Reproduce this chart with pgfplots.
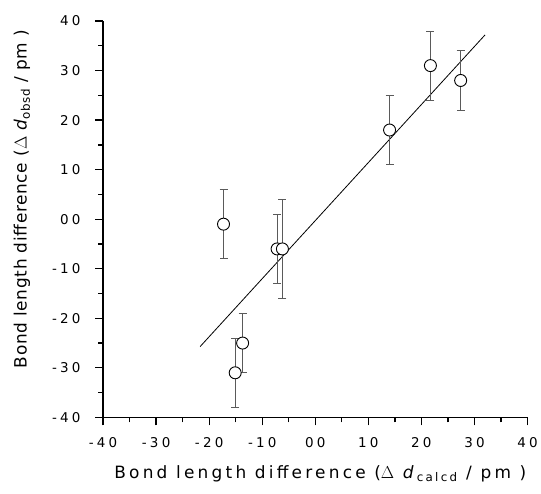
\documentclass[border=0pt]{standalone}
\usepackage{fontspec}
\setmainfont{DejaVu Sans}
\newfontfamily\tickfont[LetterSpace=24]{DejaVu Sans}
\newfontfamily\xlabelfont[LetterSpace=19]{DejaVu Sans}
\newfontfamily\ylabelfont[LetterSpace=4]{DejaVu Sans}
\usepackage{pgfplots}
\pgfplotsset{compat=1.18}
\definecolor{errgray}{RGB}{90,90,90}

\begin{document}
\begin{tikzpicture}
\begin{axis}[
  name=ax,
  width=424bp, height=396bp, scale only axis,
  xmin=-40, xmax=40, ymin=-40, ymax=40,
  axis x line*=bottom, axis y line*=left,
  axis line style={line width=1.6bp, -},
  xtick={-40,-30,...,40}, ytick={-40,-30,...,40},
  xticklabels={-40,-30,-20,-10,00,10,20,30,40},
  yticklabels={-40,-30,-20,-10,00,10,20,30,40},
  minor tick num=1,
  tick align=outside,
  major tick length=8bp, minor tick length=5bp,
  tick style={line width=1.3bp, black},
  ticklabel style={font=\tickfont\fontsize{13.5}{15}\selectfont},
  xticklabel style={yshift=-9bp},
  yticklabel style={xshift=-11bp},
  xlabel={\xlabelfont\fontsize{17}{20}\selectfont Bond length difference (\(\Delta\) \textit{d}\textsubscript{calcd} / pm )},
  ylabel={\ylabelfont\fontsize{17}{20}\selectfont Bond length difference (\(\Delta\) \textit{d}\textsubscript{obsd} / pm )},
  xlabel style={at={(axis description cs:0.5,0)}, anchor=center, yshift=-56bp, xshift=5bp},
  ylabel style={at={(axis description cs:0,0.5)}, anchor=center, yshift=81bp, xshift=20bp},
]
\addplot[black, line width=0.8bp, no marks] coordinates {(-21.7,-25.7) (32,37.2)};
\addplot[only marks, mark=*, mark size=6bp,
  mark options={fill=white, draw=black, line width=0.9bp},
  error bars/.cd, y dir=both, y explicit,
  error bar style={errgray, line width=0.8bp},
  error mark options={rotate=90, mark size=4bp, errgray, line width=0.8bp}]
  coordinates {
    (14.0,18) +- (0,7)
    (21.7,31) +- (0,7)
    (27.4,28) +- (0,6)
    (-17.3,-1) +- (0,7)
    (-7.2,-6) +- (0,7)
    (-6.2,-6) +- (0,10)
    (-13.7,-25) +- (0,6)
    (-15.1,-31) +- (0,7)
  };
\end{axis}
\path ([yshift=21bp]ax.north west) ([xshift=-103bp,yshift=-76bp]ax.south west);
\end{tikzpicture}
\end{document}
